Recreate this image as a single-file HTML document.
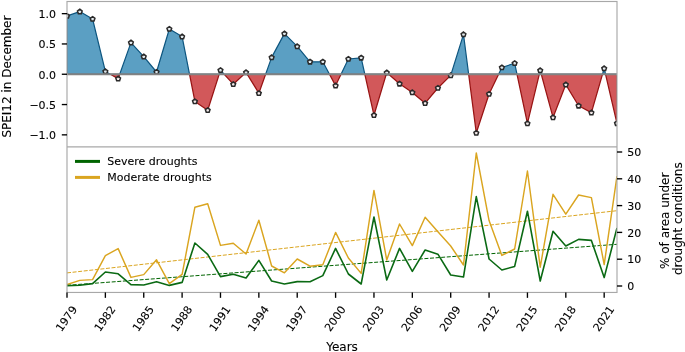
<!DOCTYPE html>
<html><head><meta charset="utf-8"><title>SPEI12 drought chart</title>
<style>html,body{margin:0;padding:0;background:#fff;overflow:hidden}svg{display:block}text{stroke:#000;stroke-width:0.1px}</style></head>
<body>
<svg width="685" height="352" viewBox="0 0 685 352" font-family='"DejaVu Sans","Liberation Sans",sans-serif' fill="#000000">
<defs>
<clipPath id="ctop"><rect x="67.0" y="1.5" width="550.0" height="72.75"/></clipPath>
<clipPath id="cbot"><rect x="67.0" y="74.25" width="550.0" height="72.65"/></clipPath>
<clipPath id="ca"><rect x="67.0" y="1.5" width="550.0" height="145.4"/></clipPath>
<clipPath id="cb"><rect x="67.0" y="146.9" width="550.0" height="145.54999999999998"/></clipPath>
<filter id="soft" x="-5%" y="-5%" width="110%" height="110%"><feGaussianBlur stdDeviation="0.55"/></filter>
</defs>
<rect width="685" height="352" fill="#ffffff"/>
<g clip-path="url(#ctop)"><polygon points="67.00,74.25 67.00,16.00 79.79,11.60 92.58,19.00 105.37,71.40 118.16,78.60 130.95,42.60 143.74,56.60 156.53,72.00 169.32,29.00 182.11,36.60 194.90,101.40 207.69,110.20 220.48,70.20 233.27,84.20 246.06,72.40 258.85,93.20 271.64,57.40 284.43,33.60 297.22,46.40 310.01,61.80 322.80,61.80 335.59,85.60 348.38,59.00 361.17,57.80 373.96,115.20 386.75,72.60 399.54,83.80 412.33,92.40 425.12,103.20 437.91,88.00 450.70,75.40 463.49,34.40 476.28,133.00 489.07,94.00 501.86,67.50 514.65,63.20 527.44,123.40 540.23,70.40 553.02,117.40 565.81,84.60 578.60,105.80 591.39,112.60 604.18,68.40 616.97,123.30 616.97,74.25" fill="#5b9fc3" stroke="#0d557f" stroke-width="1.2" stroke-linejoin="round"/></g>
<g clip-path="url(#cbot)"><polygon points="67.00,74.25 67.00,16.00 79.79,11.60 92.58,19.00 105.37,71.40 118.16,78.60 130.95,42.60 143.74,56.60 156.53,72.00 169.32,29.00 182.11,36.60 194.90,101.40 207.69,110.20 220.48,70.20 233.27,84.20 246.06,72.40 258.85,93.20 271.64,57.40 284.43,33.60 297.22,46.40 310.01,61.80 322.80,61.80 335.59,85.60 348.38,59.00 361.17,57.80 373.96,115.20 386.75,72.60 399.54,83.80 412.33,92.40 425.12,103.20 437.91,88.00 450.70,75.40 463.49,34.40 476.28,133.00 489.07,94.00 501.86,67.50 514.65,63.20 527.44,123.40 540.23,70.40 553.02,117.40 565.81,84.60 578.60,105.80 591.39,112.60 604.18,68.40 616.97,123.30 616.97,74.25" fill="#d2585a" stroke="#981414" stroke-width="1.25" stroke-linejoin="round"/></g>
<g clip-path="url(#ca)"><g filter="url(#soft)" fill="#ffffff" fill-opacity="0.85" stroke="#2a2a2a" stroke-width="1.55" stroke-linejoin="miter">
<polygon points="67.00,13.65 69.33,15.34 68.44,18.08 65.56,18.08 64.67,15.34"/>
<polygon points="79.79,9.25 82.12,10.94 81.23,13.68 78.35,13.68 77.46,10.94"/>
<polygon points="92.58,16.65 94.91,18.34 94.02,21.08 91.14,21.08 90.25,18.34"/>
<polygon points="105.37,69.05 107.70,70.74 106.81,73.48 103.93,73.48 103.04,70.74"/>
<polygon points="118.16,76.25 120.49,77.94 119.60,80.68 116.72,80.68 115.83,77.94"/>
<polygon points="130.95,40.25 133.28,41.94 132.39,44.68 129.51,44.68 128.62,41.94"/>
<polygon points="143.74,54.25 146.07,55.94 145.18,58.68 142.30,58.68 141.41,55.94"/>
<polygon points="156.53,69.65 158.86,71.34 157.97,74.08 155.09,74.08 154.20,71.34"/>
<polygon points="169.32,26.65 171.65,28.34 170.76,31.08 167.88,31.08 166.99,28.34"/>
<polygon points="182.11,34.25 184.44,35.94 183.55,38.68 180.67,38.68 179.78,35.94"/>
<polygon points="194.90,99.05 197.23,100.74 196.34,103.48 193.46,103.48 192.57,100.74"/>
<polygon points="207.69,107.85 210.02,109.54 209.13,112.28 206.25,112.28 205.36,109.54"/>
<polygon points="220.48,67.85 222.81,69.54 221.92,72.28 219.04,72.28 218.15,69.54"/>
<polygon points="233.27,81.85 235.60,83.54 234.71,86.28 231.83,86.28 230.94,83.54"/>
<polygon points="246.06,70.05 248.39,71.74 247.50,74.48 244.62,74.48 243.73,71.74"/>
<polygon points="258.85,90.85 261.18,92.54 260.29,95.28 257.41,95.28 256.52,92.54"/>
<polygon points="271.64,55.05 273.97,56.74 273.08,59.48 270.20,59.48 269.31,56.74"/>
<polygon points="284.43,31.25 286.76,32.94 285.87,35.68 282.99,35.68 282.10,32.94"/>
<polygon points="297.22,44.05 299.55,45.74 298.66,48.48 295.78,48.48 294.89,45.74"/>
<polygon points="310.01,59.45 312.34,61.14 311.45,63.88 308.57,63.88 307.68,61.14"/>
<polygon points="322.80,59.45 325.13,61.14 324.24,63.88 321.36,63.88 320.47,61.14"/>
<polygon points="335.59,83.25 337.92,84.94 337.03,87.68 334.15,87.68 333.26,84.94"/>
<polygon points="348.38,56.65 350.71,58.34 349.82,61.08 346.94,61.08 346.05,58.34"/>
<polygon points="361.17,55.45 363.50,57.14 362.61,59.88 359.73,59.88 358.84,57.14"/>
<polygon points="373.96,112.85 376.29,114.54 375.40,117.28 372.52,117.28 371.63,114.54"/>
<polygon points="386.75,70.25 389.08,71.94 388.19,74.68 385.31,74.68 384.42,71.94"/>
<polygon points="399.54,81.45 401.87,83.14 400.98,85.88 398.10,85.88 397.21,83.14"/>
<polygon points="412.33,90.05 414.66,91.74 413.77,94.48 410.89,94.48 410.00,91.74"/>
<polygon points="425.12,100.85 427.45,102.54 426.56,105.28 423.68,105.28 422.79,102.54"/>
<polygon points="437.91,85.65 440.24,87.34 439.35,90.08 436.47,90.08 435.58,87.34"/>
<polygon points="450.70,73.05 453.03,74.74 452.14,77.48 449.26,77.48 448.37,74.74"/>
<polygon points="463.49,32.05 465.82,33.74 464.93,36.48 462.05,36.48 461.16,33.74"/>
<polygon points="476.28,130.65 478.61,132.34 477.72,135.08 474.84,135.08 473.95,132.34"/>
<polygon points="489.07,91.65 491.40,93.34 490.51,96.08 487.63,96.08 486.74,93.34"/>
<polygon points="501.86,65.15 504.19,66.84 503.30,69.58 500.42,69.58 499.53,66.84"/>
<polygon points="514.65,60.85 516.98,62.54 516.09,65.28 513.21,65.28 512.32,62.54"/>
<polygon points="527.44,121.05 529.77,122.74 528.88,125.48 526.00,125.48 525.11,122.74"/>
<polygon points="540.23,68.05 542.56,69.74 541.67,72.48 538.79,72.48 537.90,69.74"/>
<polygon points="553.02,115.05 555.35,116.74 554.46,119.48 551.58,119.48 550.69,116.74"/>
<polygon points="565.81,82.25 568.14,83.94 567.25,86.68 564.37,86.68 563.48,83.94"/>
<polygon points="578.60,103.45 580.93,105.14 580.04,107.88 577.16,107.88 576.27,105.14"/>
<polygon points="591.39,110.25 593.72,111.94 592.83,114.68 589.95,114.68 589.06,111.94"/>
<polygon points="604.18,66.05 606.51,67.74 605.62,70.48 602.74,70.48 601.85,67.74"/>
<polygon points="616.97,120.95 619.30,122.64 618.41,125.38 615.53,125.38 614.64,122.64"/>
</g></g>
<line x1="67.0" x2="617.0" y1="74.25" y2="74.25" stroke="#828282" stroke-width="2.1"/>
<g clip-path="url(#cb)" fill="none">
<line x1="67.0" y1="272.9" x2="616.9699999999999" y2="210.7" stroke="#daa520" stroke-width="1.0" stroke-dasharray="4 1.6"/>
<line x1="67.0" y1="285.3" x2="616.9699999999999" y2="244.3" stroke="#006400" stroke-width="1.0" stroke-dasharray="4 1.6"/>
<polyline points="67.00,284.60 79.79,280.40 92.58,279.60 105.37,255.60 118.16,248.60 130.95,277.40 143.74,274.60 156.53,259.80 169.32,283.60 182.11,274.40 194.90,207.20 207.69,203.80 220.48,245.40 233.27,243.20 246.06,254.00 258.85,220.20 271.64,266.00 284.43,272.80 297.22,259.00 310.01,266.20 322.80,264.80 335.59,232.40 348.38,258.00 361.17,273.40 373.96,190.40 386.75,260.00 399.54,224.00 412.33,245.60 425.12,217.20 437.91,231.80 450.70,246.00 463.49,265.00 476.28,153.00 489.07,220.60 501.86,255.40 514.65,249.00 527.44,171.00 540.23,267.20 553.02,194.30 565.81,214.20 578.60,195.00 591.39,197.60 604.18,264.60 616.97,176.20" stroke="#daa520" stroke-width="1.45" stroke-linejoin="round"/>
<polyline points="67.00,285.60 79.79,285.20 92.58,283.60 105.37,272.00 118.16,273.80 130.95,284.60 143.74,285.00 156.53,281.80 169.32,285.40 182.11,282.40 194.90,243.00 207.69,254.40 220.48,276.60 233.27,274.20 246.06,278.00 258.85,260.40 271.64,281.00 284.43,284.00 297.22,281.60 310.01,281.80 322.80,275.60 335.59,248.40 348.38,274.00 361.17,284.00 373.96,217.00 386.75,280.00 399.54,248.40 412.33,271.40 425.12,250.00 437.91,254.20 450.70,275.00 463.49,277.00 476.28,196.60 489.07,259.00 501.86,270.00 514.65,266.40 527.44,211.20 540.23,281.00 553.02,231.20 565.81,246.00 578.60,239.40 591.39,240.40 604.18,277.60 616.97,228.00" stroke="#0b6a14" stroke-width="1.6" stroke-linejoin="round"/>
</g>
<g stroke="#a8a8a8" stroke-width="1.15" fill="none">
<rect x="67.0" y="1.5" width="550.0" height="290.95"/>
<line x1="67.0" x2="617.0" y1="146.9" y2="146.9"/>
</g>
<g stroke="#000" stroke-width="1.35">
<line x1="67.0" x2="61.8" y1="13.65" y2="13.65"/>
<line x1="67.0" x2="61.8" y1="43.95" y2="43.95"/>
<line x1="67.0" x2="61.8" y1="74.25" y2="74.25"/>
<line x1="67.0" x2="61.8" y1="104.55" y2="104.55"/>
<line x1="67.0" x2="61.8" y1="134.85" y2="134.85"/>
<line x1="617.0" x2="622.2" y1="286.00" y2="286.00"/>
<line x1="617.0" x2="622.2" y1="259.20" y2="259.20"/>
<line x1="617.0" x2="622.2" y1="232.40" y2="232.40"/>
<line x1="617.0" x2="622.2" y1="205.60" y2="205.60"/>
<line x1="617.0" x2="622.2" y1="178.80" y2="178.80"/>
<line x1="617.0" x2="622.2" y1="152.00" y2="152.00"/>
<line x1="67.00" x2="67.00" y1="292.45" y2="297.84999999999997"/>
<line x1="105.37" x2="105.37" y1="292.45" y2="297.84999999999997"/>
<line x1="143.74" x2="143.74" y1="292.45" y2="297.84999999999997"/>
<line x1="182.11" x2="182.11" y1="292.45" y2="297.84999999999997"/>
<line x1="220.48" x2="220.48" y1="292.45" y2="297.84999999999997"/>
<line x1="258.85" x2="258.85" y1="292.45" y2="297.84999999999997"/>
<line x1="297.22" x2="297.22" y1="292.45" y2="297.84999999999997"/>
<line x1="335.59" x2="335.59" y1="292.45" y2="297.84999999999997"/>
<line x1="373.96" x2="373.96" y1="292.45" y2="297.84999999999997"/>
<line x1="412.33" x2="412.33" y1="292.45" y2="297.84999999999997"/>
<line x1="450.70" x2="450.70" y1="292.45" y2="297.84999999999997"/>
<line x1="489.07" x2="489.07" y1="292.45" y2="297.84999999999997"/>
<line x1="527.44" x2="527.44" y1="292.45" y2="297.84999999999997"/>
<line x1="565.81" x2="565.81" y1="292.45" y2="297.84999999999997"/>
<line x1="604.18" x2="604.18" y1="292.45" y2="297.84999999999997"/>
</g>
<g font-size="11.0">
<text x="56.1" y="18.00" text-anchor="end">1.0</text>
<text x="56.1" y="48.30" text-anchor="end">0.5</text>
<text x="56.1" y="78.60" text-anchor="end">0.0</text>
<text x="56.1" y="108.90" text-anchor="end">−0.5</text>
<text x="56.1" y="139.20" text-anchor="end">−1.0</text>
<text x="627.3" y="290.20">0</text>
<text x="627.3" y="263.40">10</text>
<text x="627.3" y="236.60">20</text>
<text x="627.3" y="209.80">30</text>
<text x="627.3" y="183.00">40</text>
<text x="627.3" y="156.20">50</text>
<text transform="translate(66.50 318.6) rotate(-55)" text-anchor="middle" y="3.8">1979</text>
<text transform="translate(104.87 318.6) rotate(-55)" text-anchor="middle" y="3.8">1982</text>
<text transform="translate(143.24 318.6) rotate(-55)" text-anchor="middle" y="3.8">1985</text>
<text transform="translate(181.61 318.6) rotate(-55)" text-anchor="middle" y="3.8">1988</text>
<text transform="translate(219.98 318.6) rotate(-55)" text-anchor="middle" y="3.8">1991</text>
<text transform="translate(258.35 318.6) rotate(-55)" text-anchor="middle" y="3.8">1994</text>
<text transform="translate(296.72 318.6) rotate(-55)" text-anchor="middle" y="3.8">1997</text>
<text transform="translate(335.09 318.6) rotate(-55)" text-anchor="middle" y="3.8">2000</text>
<text transform="translate(373.46 318.6) rotate(-55)" text-anchor="middle" y="3.8">2003</text>
<text transform="translate(411.83 318.6) rotate(-55)" text-anchor="middle" y="3.8">2006</text>
<text transform="translate(450.20 318.6) rotate(-55)" text-anchor="middle" y="3.8">2009</text>
<text transform="translate(488.57 318.6) rotate(-55)" text-anchor="middle" y="3.8">2012</text>
<text transform="translate(526.94 318.6) rotate(-55)" text-anchor="middle" y="3.8">2015</text>
<text transform="translate(565.31 318.6) rotate(-55)" text-anchor="middle" y="3.8">2018</text>
<text transform="translate(603.68 318.6) rotate(-55)" text-anchor="middle" y="3.8">2021</text>
</g>
<g font-size="12">
<text x="342" y="350.5" text-anchor="middle">Years</text>
<text transform="translate(10.5 76.6) rotate(-90)" text-anchor="middle">SPEI12 in December</text>
<text transform="translate(668.7 220.8) rotate(-90)" text-anchor="middle">% of area under</text>
<text transform="translate(682.2 218.7) rotate(-90)" text-anchor="middle">drought conditions</text>
</g>
<line x1="75" x2="100" y1="161.4" y2="161.4" stroke="#006400" stroke-width="3"/>
<line x1="75" x2="100" y1="177.4" y2="177.4" stroke="#daa520" stroke-width="3"/>
<g font-size="10.97"><text x="107.3" y="165.3">Severe droughts</text><text x="107.3" y="181.3">Moderate droughts</text></g>
</svg>
</body></html>
